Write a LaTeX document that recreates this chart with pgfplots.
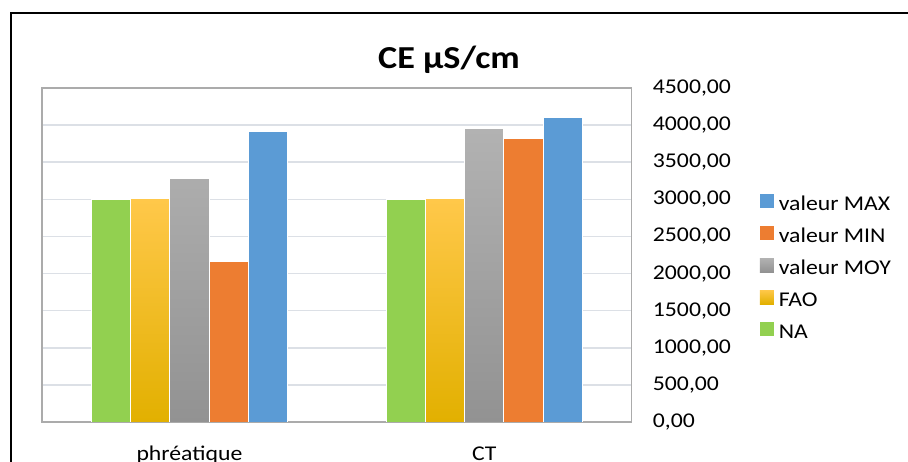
\documentclass[border=0pt]{standalone}
\usepackage{fontspec}
\setmainfont{Carlito}[FakeStretch=1.13]
\usepackage{pgfplots}
\pgfplotsset{compat=1.18}
\definecolor{cNA}{HTML}{92D050}
\definecolor{cFAOt}{HTML}{FFC84A}
\definecolor{cFAOm}{HTML}{FFC400}
\definecolor{cFAOb}{HTML}{E2B000}
\definecolor{cMOYt}{HTML}{B2B2B2}
\definecolor{cMOYb}{HTML}{929292}
\definecolor{cMIN}{HTML}{ED7D31}
\definecolor{cMAX}{HTML}{5B9BD5}
\definecolor{cGrid}{HTML}{DCE0E6}
\definecolor{cAxis}{HTML}{ABABAB}
\begin{document}
\begin{tikzpicture}
\useasboundingbox (0,0) rectangle (908bp,462bp);
\clip (0,0) rectangle (908bp,462bp);
\draw[black, line width=2bp] (11bp,-20bp) rectangle (940bp,449bp);
\node[anchor=base, font=\fontsize{32bp}{36bp}\selectfont\bfseries, inner sep=0pt] at (449bp,393bp) {CE µS/cm};
\begin{axis}[
  at={(42bp,40bp)}, anchor=south west,
  scale only axis, width=589.7bp, height=334bp,
  ybar=0pt, bar width=39.3bp,
  xmin=-0.5, xmax=1.5, ymin=0, ymax=4500,
  xtick={0,1}, xticklabels={phréatique, CT},
  ytick={0,500,...,4500},
  major tick length=0pt,
  yticklabel pos=right,
  /pgf/number format/assume math mode=true,
  yticklabel={\pgfmathprintnumber[fixed,fixed zerofill,precision=2,use comma,1000 sep={}]{\tick}},
  yticklabel style={anchor=west, inner sep=0pt, xshift=21bp, font=\fontsize{21bp}{25bp}\selectfont},
  xticklabel style={anchor=base, inner sep=0pt, yshift=-38bp, font=\fontsize{21bp}{25bp}\selectfont},
  axis line style={draw=cAxis, line width=1.5bp},
  ymajorgrids, major grid style={draw=cGrid, line width=1.5bp},
  legend image code/.code={\path[#1,draw=none] (0bp,-3.5bp) rectangle (14bp,10.5bp);},
  reverse legend,
  legend style={draw=none, fill=none, inner sep=0pt, outer sep=0pt,
    at={(1.2173,0.6826)}, anchor=north west,
    row sep=11bp, column sep=5bp,
    font=\fontsize{21bp}{25bp}\selectfont,
    nodes={inner sep=0pt, text height=16bp, text depth=5bp}},
  legend cell align=left,
]
\addplot[fill=cNA, draw=white, line width=1bp] coordinates {(0,3000) (1,3000)};
\addlegendentry{NA}
\addplot[top color=cFAOt, middle color=cFAOm, bottom color=cFAOb, draw=white, line width=1bp] coordinates {(0,3005) (1,3005)};
\addlegendentry{FAO}
\addplot[top color=cMOYt, bottom color=cMOYb, draw=white, line width=1bp] coordinates {(0,3275) (1,3950)};
\addlegendentry{valeur MOY}
\addplot[fill=cMIN, draw=white, line width=1bp] coordinates {(0,2160) (1,3825)};
\addlegendentry{valeur MIN}
\addplot[fill=cMAX, draw=white, line width=1bp] coordinates {(0,3910) (1,4100)};
\addlegendentry{valeur MAX}
\end{axis}
\end{tikzpicture}
\end{document}
